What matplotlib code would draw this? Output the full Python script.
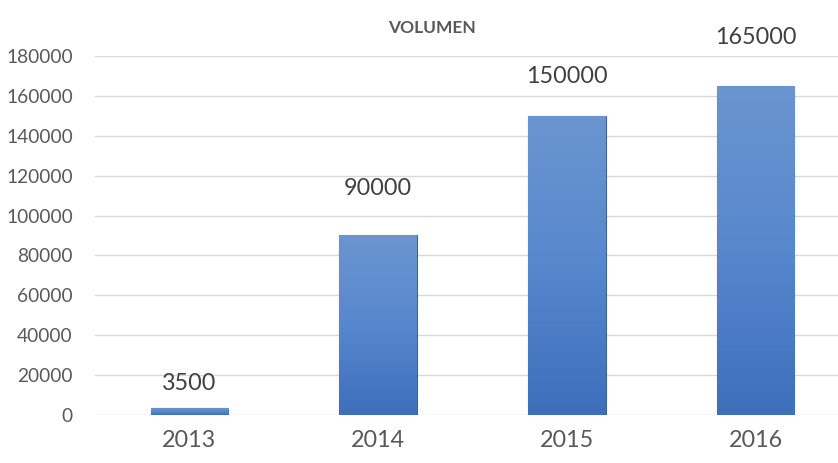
import matplotlib.pyplot as plt
import numpy as np
from matplotlib.colors import LinearSegmentedColormap

years = ["2013", "2014", "2015", "2016"]
volumen = [3500, 90000, 150000, 165000]
yticks = [0, 20000, 40000, 60000, 80000, 100000, 120000, 140000, 160000, 180000]

# distancia de las etiquetas sobre la barra (puntos)
label_offsets = [10, 26, 21, 27]

plt.rcParams['font.family'] = ['Lato', 'DejaVu Sans']

fig = plt.figure(figsize=(8.38, 4.63), dpi=100)
ax = fig.add_axes([0.1134, 0.1037, 0.901, 0.7754])

x = np.arange(len(years))
bars = ax.bar(x, volumen, width=0.41, color="#4F81C6", edgecolor="#3A64A0",
              linewidth=0.8, zorder=3)

# degradado vertical dentro de cada barra
cmap = LinearSegmentedColormap.from_list("azul", ["#3D6FBB", "#5787CD", "#6B95D0"])
grad = np.linspace(0, 1, 256).reshape(-1, 1)
for b in bars:
    x0, y0 = b.get_x(), b.get_y()
    im = ax.imshow(grad, cmap=cmap, aspect="auto", origin="lower",
                   extent=[x0, x0 + b.get_width(), y0, y0 + b.get_height()],
                   zorder=3.5)
    im.set_clip_path(b)

for xi, v, off in zip(x, volumen, label_offsets):
    ax.annotate(str(v), (xi, v), xytext=(0, off), textcoords="offset points",
                ha="center", va="bottom", fontsize=16.8, color="#404040")

ax.set_xlim(-0.5, len(years) - 0.5)
ax.set_ylim(0, 180000)
ax.set_yticks(yticks)
ax.set_yticklabels([str(t) for t in yticks], fontsize=13.8, color="#595959")
ax.set_xticks(x)
ax.set_xticklabels(years, fontsize=16.8, color="#595959")
ax.tick_params(length=0, axis="y", pad=16)
ax.tick_params(length=0, axis="x", pad=11)
ax.yaxis.grid(True, color="#D9D9D9", linewidth=1.0, zorder=0)
ax.set_axisbelow(True)
for s in ax.spines.values():
    s.set_visible(False)

fig.text(0.516, 0.94, "VOLUMEN", ha="center", va="center", fontsize=12.5,
         fontweight="bold", color="#595959")

fig.savefig("out.png", dpi=100)
